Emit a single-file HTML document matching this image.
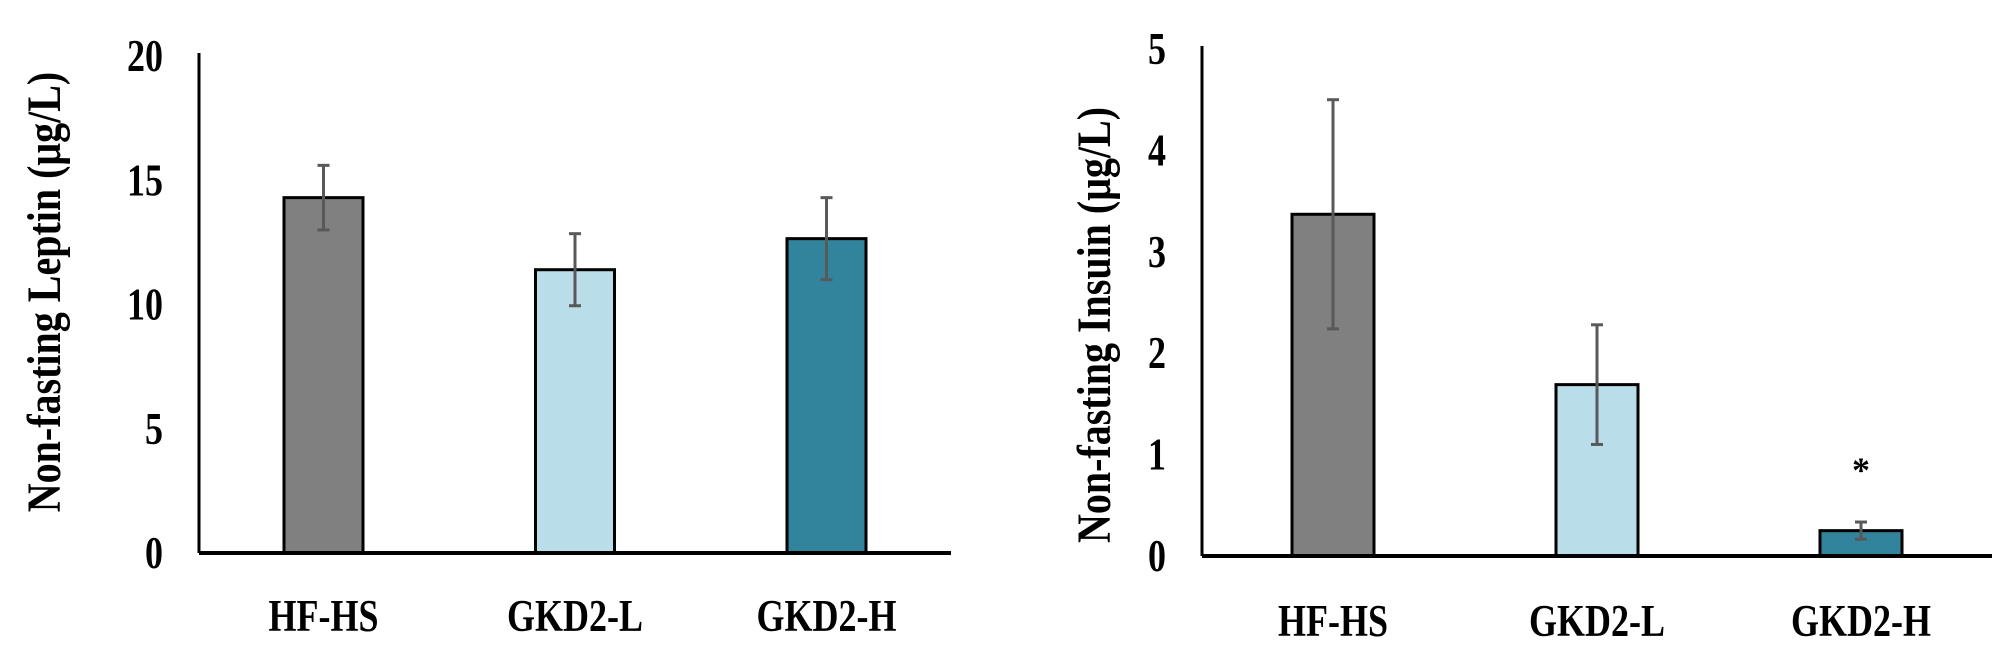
<!DOCTYPE html>
<html><head><meta charset="utf-8"><style>
html,body{margin:0;padding:0;background:#fff}
svg{display:block}
text{font-family:"Liberation Serif",serif;font-weight:bold;fill:#000}
</style></head><body>
<svg id="chart" width="2000" height="667" viewBox="0 0 2000 667" xmlns="http://www.w3.org/2000/svg"></svg>
<script>
const categories = ["HF-HS","GKD2-L","GKD2-H"];
const leptinValues = [14.3, 11.4, 12.65];
const leptinErrors = [1.3, 1.45, 1.65];
const leptinTicks = [0,5,10,15,20];
const insulinValues = [3.37, 1.69, 0.25];
const insulinErrors = [1.13, 0.59, 0.085];
const insulinTicks = [0,1,2,3,4,5];
const insulinSignif = ["","","*"];
const colors = ["#808080","#b9dde9","#31849b"];

const NS="http://www.w3.org/2000/svg";
const svg=document.getElementById('chart');
function mk(tag,attrs,parent){const e=document.createElementNS(NS,tag);for(const k in attrs)e.setAttribute(k,attrs[k]);(parent||svg).appendChild(e);return e;}

function drawChart(cfg){
  const g=mk('g',{});
  
  
  const yMax=cfg.ticks[cfg.ticks.length-1];
  const y=v=>cfg.base-(v/yMax)*(cfg.base-cfg.top);
  const x=i=>cfg.centers0+i*cfg.step;
  cfg.ticks.forEach(t=>{
    const tl=mk('text',{x:0,y:0,'text-anchor':'end','font-size':36,transform:`translate(${cfg.axisX-36},${y(t)+15}) scale(1,1.25)`},g);
    tl.textContent=t;
    
    
  });
  categories.forEach((c,i)=>{
    const v=cfg.values[i],e=cfg.errors[i];
    const b=mk('rect',{x:x(i)-cfg.bw/2,y:y(v),width:cfg.bw,height:cfg.base-y(v),fill:colors[i],stroke:'#000','stroke-width':3},g);
    
    
    const eg=mk('g',{stroke:'#595959','stroke-width':3},g);
    
    
    mk('line',{x1:x(i),x2:x(i),y1:y(v+e),y2:y(v-e)},eg);
    mk('line',{x1:x(i)-6,x2:x(i)+6,y1:y(v+e),y2:y(v+e)},eg);
    mk('line',{x1:x(i)-6,x2:x(i)+6,y1:y(v-e),y2:y(v-e)},eg);
    const lb=mk('text',{x:0,y:0,'text-anchor':'middle','font-size':36,transform:`translate(${x(i)},${cfg.labelY+16}) scale(1,1.25)`},g);
    lb.textContent=c;
    
    
    if(cfg.signif && cfg.signif[i]){
      const s=mk('text',{x:x(i),y:y(v+e)-40,'text-anchor':'middle','font-size':36},g);
      s.textContent=cfg.signif[i];
      
      
    }
  });
  const ya=mk('line',{x1:cfg.axisX,x2:cfg.axisX,y1:cfg.top-3,y2:cfg.base,stroke:'#000','stroke-width':3},g);
  
  
  const xa=mk('line',{x1:cfg.axisX,x2:cfg.axisEnd,y1:cfg.base,y2:cfg.base,stroke:'#000','stroke-width':4},g);
  
  
  const tt=mk('text',{x:0,y:0,'text-anchor':'middle','font-size':40,transform:`translate(${cfg.titleX},${cfg.titleY}) rotate(-90) scale(1,1.2)`},g);
  tt.textContent=cfg.title;
  
  
}
drawChart({name:'leptin-chart',values:leptinValues,errors:leptinErrors,ticks:leptinTicks,
  axisX:199,axisEnd:951,top:56,base:553,centers0:323.5,step:251.5,bw:79,labelY:615,
  title:'Non-fasting Leptin (μg/L)',titleX:46+14,titleY:292});
drawChart({name:'insulin-chart',values:insulinValues,errors:insulinErrors,ticks:insulinTicks,signif:insulinSignif,
  axisX:1202,axisEnd:1992,top:49,base:556,centers0:1333,step:264,bw:82,labelY:620,
  title:'Non-fasting Insuin (μg/L)',titleX:1096+14,titleY:325});
</script>
</body></html>
